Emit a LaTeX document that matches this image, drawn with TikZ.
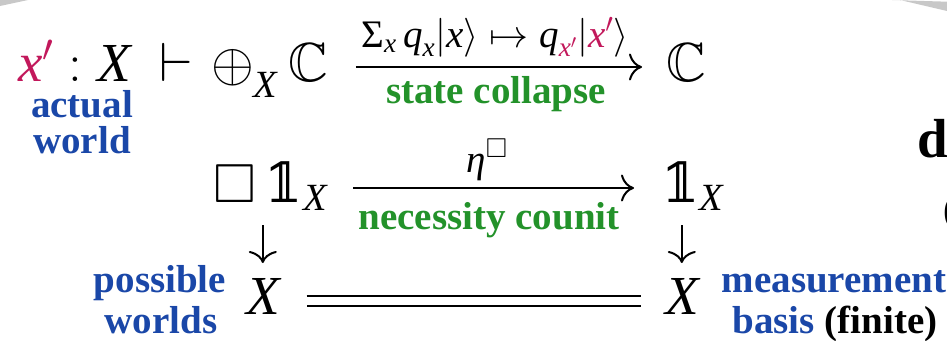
\RequirePackage{fix-cm}
\documentclass[tikz,border=0pt]{standalone}
\usepackage{amsmath,amssymb}
\DeclareFontFamily{U}{msb}{}
\DeclareFontShape{U}{msb}{m}{n}{<-> msbm10}{}
\DeclareFontFamily{U}{msa}{}
\DeclareFontShape{U}{msa}{m}{n}{<-> msam10}{}
\usepackage{fontspec}
\setmainfont{Liberation Serif}
\newfontfamily\dsserif{DejaVu Serif}
\newfontfamily\dssans{DejaVu Sans}
\newcommand{\dsonechar}{%
  {\dsserif\iffontchar\font"1D7D9 \char"1D7D9 \else
   \dssans\iffontchar\font"1D7D9 \char"1D7D9 \else
   $\mathbb{I}$\fi\fi}}
\newcommand{\dsone}{\text{\dsonechar}}
\usetikzlibrary{arrows.meta}
\definecolor{wred}{HTML}{C2185B}
\definecolor{wblue}{HTML}{1A47A8}
\definecolor{wgreen}{HTML}{23922A}
\definecolor{wgray}{HTML}{C8C8C8}
\newcommand{\szbig}{\fontsize{55}{60}\selectfont}
\newcommand{\szlab}{\fontsize{39}{44}\selectfont}
\newcommand{\iv}[1]{\textit{#1}}
\tikzset{
  x=1pt, y=-1pt,
  txt/.style={inner sep=0pt, outer sep=0pt, anchor=base west, font=\szbig},
  lab/.style={inner sep=0pt, outer sep=0pt, anchor=base, font=\szlab},
  bluelab/.style={lab, text=wblue, font=\szlab\bfseries},
  greenlab/.style={lab, text=wgreen, font=\szlab\bfseries},
  harr/.style={line width=2pt, -{To[length=13pt,width=27pt,line width=2pt]}},
  varr/.style={line width=2pt, -{To[length=12pt,width=28pt,line width=2pt]}},
  eqline/.style={line width=2pt, double, double distance=8pt}
}
\begin{document}
\begin{tikzpicture}
\useasboundingbox (0,0) rectangle (947,340);
% gray fragments of the surrounding frame
\fill[wgray] (0,0) -- (28,0) -- (0,6) -- cycle;
\fill[wgray] (892,0) -- (947,1.7) -- (947,11) -- (900,0) -- cycle;
% row 1
\node[txt] (ctx) at (18,81) {$\color{wred}\iv{x}'\color{black} : \iv{X}$};
\node[txt] (turn) at (159,81) {$\vdash$};
\node[txt] (srcA) at (211,81) {$\mathop{\oplus}\nolimits_{\text{\raisebox{-8pt}{\iv{X}}}} \mathbb{C}$};
\node[txt] (tgtA) at (666,81) {$\mathbb{C}$};
\coordinate (a1) at (0,67);
\draw[harr, shorten <=28pt, shorten >=24pt] (srcA.east |- a1) -- (tgtA.west |- a1);
\node[lab] (labA) at (495,47) {$\text{Σ}_{\iv{x}}\, \iv{q}_{\iv{x}}|\iv{x}\rangle \mapsto \iv{q}_{\color{wred}\iv{x}'}|{\color{wred}\iv{x}'}\rangle$};
\node[greenlab] (labAb) at (496,103) {state collapse};
\node[bluelab] (act1) at (82,117) {actual};
\node[bluelab] (act2) at (82,153) {world};
% row 2
\node[txt] (srcB) at (213,202) {$\square\,\dsone_{\iv{X}}$};
\node[txt] (tgtB) at (661,202) {$\dsone_{\iv{X}}$};
\coordinate (a2) at (0,188);
\draw[harr, shorten <=26pt, shorten >=27pt] (srcB.east |- a2) -- (tgtB.west |- a2);
\node[lab] (labB) at (487,172) {$\iv{η}^{\square}$};
\node[greenlab] (labBb) at (489,229) {necessity counit};
% row 3
\node[txt] (L3) at (246,314) {$\iv{X}$};
\node[txt] (R3) at (665,314) {$\iv{X}$};
\coordinate (d1) at (0,225);
\coordinate (d2) at (0,263);
\draw[varr] (L3.center |- d1) -- (L3.center |- d2);
\draw[varr] (R3.center |- d1) -- (R3.center |- d2);
\coordinate (a3) at (0,301);
\draw[eqline, shorten <=27pt, shorten >=24pt] (L3.east |- a3) -- (R3.west |- a3);
\node[bluelab] (pw1) at (160,292) {possible};
\node[bluelab] (pw2) at (161,333) {worlds};
\node[bluelab] (mb1) at (834,292) {measurement};
\node[lab] (mb2) at (835,333) {\bfseries\textcolor{wblue}{basis} (finite)};
% clipped fragments at the right edge
\node[txt, font=\szbig\bfseries] (frag1) at (917,157) {d};
\node[txt, font=\szlab\bfseries] (frag2) at (943,222) {(};
\end{tikzpicture}
\end{document}
